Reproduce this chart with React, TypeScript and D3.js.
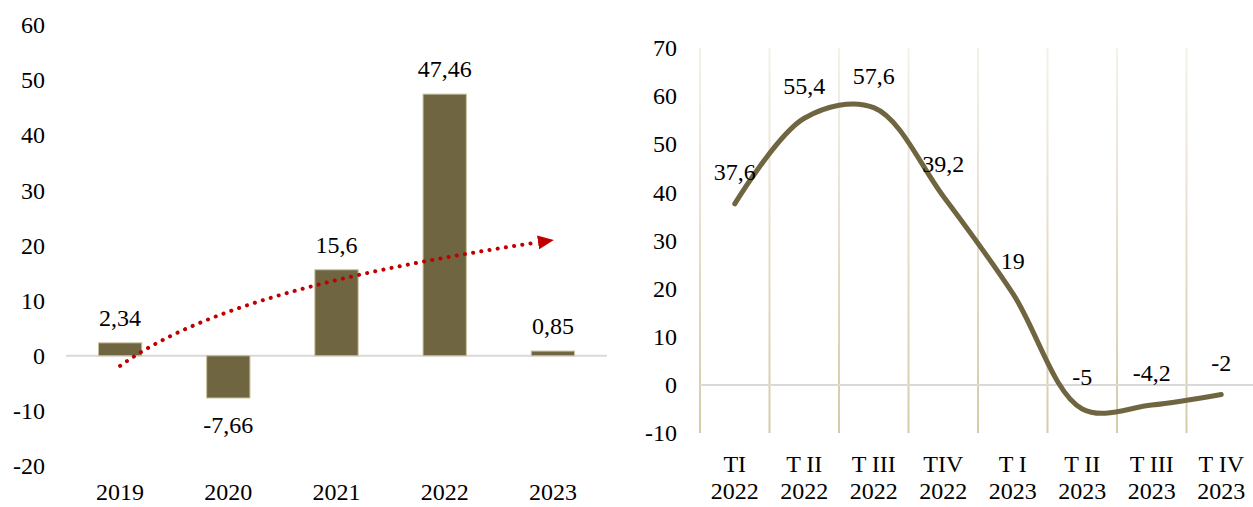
import { useEffect, useRef } from 'react';
import * as d3 from 'd3';

// left chart: yearly values
const years = ['2019', '2020', '2021', '2022', '2023'];
const yearValues = [2.34, -7.66, 15.6, 47.46, 0.85];
const leftTicks = [-20, -10, 0, 10, 20, 30, 40, 50, 60];

// right chart: quarterly values
const quarters = ['TI', 'T II', 'T III', 'TIV', 'T I', 'T II', 'T III', 'T IV'];
const quarterYears = ['2022', '2022', '2022', '2022', '2023', '2023', '2023', '2023'];
const quarterValues = [37.6, 55.4, 57.6, 39.2, 19, -5, -4.2, -2];
const rightTicks = [-10, 0, 10, 20, 30, 40, 50, 60, 70];

const OLIVE = '#6f6541';
const FONT = "'Liberation Serif', 'DejaVu Serif', serif";
const fmt = (v: number) => String(v).replace('.', ',');

export default function App() {
  const ref = useRef<SVGSVGElement>(null);

  useEffect(() => {
    if (!ref.current) return;
    const svg = d3.select(ref.current);
    svg.selectAll('*').remove();

    const defs = svg.append('defs');
    const grad = defs.append('linearGradient')
      .attr('id', 'gridGrad')
      .attr('x1', 0).attr('y1', 0).attr('x2', 0).attr('y2', 1);
    grad.append('stop').attr('offset', '0%').attr('stop-color', '#f4f1ea');
    grad.append('stop').attr('offset', '100%').attr('stop-color', '#d5cba8');

    defs.append('marker')
      .attr('id', 'arrow')
      .attr('markerUnits', 'userSpaceOnUse')
      .attr('viewBox', '0 0 16 14')
      .attr('refX', 15).attr('refY', 7)
      .attr('markerWidth', 16).attr('markerHeight', 14)
      .attr('orient', 'auto')
      .append('path')
      .attr('d', 'M0,0 L16,7 L0,14 Z')
      .attr('fill', '#c00000');

    const txt = (sel: d3.Selection<any, any, any, any>) =>
      sel.style('font-family', FONT).style('font-size', '24px').attr('fill', '#000');

    // ---------- left: bar chart ----------
    const xL = d3.scaleBand<string>()
      .domain(years)
      .range([66, 607])
      .paddingInner(0.6)
      .paddingOuter(0.3);
    const yL = d3.scaleLinear().domain([-20, 60]).range([466, 25]);
    const gL = svg.append('g');

    gL.selectAll('text.ytick')
      .data(leftTicks)
      .join('text')
      .attr('class', 'ytick')
      .attr('x', 45)
      .attr('y', d => yL(d))
      .attr('dy', '0.34em')
      .attr('text-anchor', 'end')
      .text(d => d)
      .call(txt);

    gL.append('line')
      .attr('x1', 66).attr('x2', 607)
      .attr('y1', yL(0)).attr('y2', yL(0))
      .attr('stroke', '#d9d9d9').attr('stroke-width', 2);

    gL.selectAll('rect')
      .data(yearValues)
      .join('rect')
      .attr('x', (_, i) => xL(years[i])!)
      .attr('width', xL.bandwidth())
      .attr('y', d => yL(Math.max(0, d)))
      .attr('height', d => Math.abs(yL(d) - yL(0)))
      .attr('fill', OLIVE)
      .attr('stroke', '#c8c09e')
      .attr('stroke-width', 1);

    gL.selectAll('text.val')
      .data(yearValues)
      .join('text')
      .attr('class', 'val')
      .attr('x', (_, i) => xL(years[i])! + xL.bandwidth() / 2)
      .attr('y', d => (d >= 0 ? yL(d) - 17 : yL(d) + 35))
      .attr('text-anchor', 'middle')
      .text(d => fmt(d))
      .call(txt);

    gL.selectAll('text.xcat')
      .data(years)
      .join('text')
      .attr('class', 'xcat')
      .attr('x', d => xL(d)! + xL.bandwidth() / 2)
      .attr('y', 500)
      .attr('text-anchor', 'middle')
      .text(d => d)
      .call(txt);

    // logarithmic trend line (least squares on ln(index))
    const lx = yearValues.map((_, i) => Math.log(i + 1));
    const mx = d3.mean(lx)!;
    const my = d3.mean(yearValues)!;
    const b = d3.sum(lx, (v, i) => (v - mx) * (yearValues[i] - my)) /
      d3.sum(lx, v => (v - mx) ** 2);
    const a = my - b * mx;
    const step = xL.step();
    const c0 = xL(years[0])! + xL.bandwidth() / 2;
    const tEnd = 4.86;
    const ts = d3.range(1, tEnd + 0.0001, 0.02);
    const trend = d3.line<number>()
      .x(t => c0 + (t - 1) * step)
      .y(t => yL(a + b * Math.log(t)));
    gL.append('path')
      .attr('d', trend(ts))
      .attr('fill', 'none')
      .attr('stroke', '#c00000')
      .attr('stroke-width', 4)
      .attr('stroke-linecap', 'round')
      .attr('stroke-dasharray', '0.1 8.2');
    gL.append('line')
      .attr('x1', c0 + (tEnd - 1) * step).attr('y1', yL(a + b * Math.log(tEnd)))
      .attr('x2', c0 + 4 * step).attr('y2', yL(a + b * Math.log(5)))
      .attr('stroke', 'none')
      .attr('marker-end', 'url(#arrow)');

    // ---------- right: line chart ----------
    const idx = quarters.map((_, i) => String(i));
    const xR = d3.scaleBand<string>().domain(idx).range([700, 1256]).padding(0);
    const yR = d3.scaleLinear().domain([-10, 70]).range([433, 48]);
    const gR = svg.append('g');

    gR.selectAll('text.ytick')
      .data(rightTicks)
      .join('text')
      .attr('class', 'ytick')
      .attr('x', 677)
      .attr('y', d => yR(d))
      .attr('dy', '0.34em')
      .attr('text-anchor', 'end')
      .text(d => d)
      .call(txt);

    gR.selectAll('rect.grid')
      .data(idx)
      .join('rect')
      .attr('class', 'grid')
      .attr('x', d => xR(d)! - 1)
      .attr('y', yR(70))
      .attr('width', 2)
      .attr('height', yR(-10) - yR(70))
      .attr('fill', 'url(#gridGrad)');

    gR.append('line')
      .attr('x1', 700).attr('x2', 1256)
      .attr('y1', yR(0)).attr('y2', yR(0))
      .attr('stroke', '#d9d9d9').attr('stroke-width', 2);

    const cx = (i: number) => xR(String(i))! + xR.bandwidth() / 2;
    const line = d3.line<number>()
      .x((_, i) => cx(i))
      .y(d => yR(d))
      .curve(d3.curveCatmullRom.alpha(0.5));
    gR.append('path')
      .attr('d', line(quarterValues))
      .attr('fill', 'none')
      .attr('stroke', OLIVE)
      .attr('stroke-width', 5)
      .attr('stroke-linecap', 'round');

    gR.selectAll('text.val')
      .data(quarterValues)
      .join('text')
      .attr('class', 'val')
      .attr('x', (_, i) => cx(i))
      .attr('y', d => yR(d) - 24)
      .attr('text-anchor', 'middle')
      .text(d => fmt(d))
      .call(txt);

    const cats = gR.selectAll('text.xcat')
      .data(quarters)
      .join('text')
      .attr('class', 'xcat')
      .attr('text-anchor', 'middle')
      .call(txt);
    cats.append('tspan').attr('x', (_, i) => cx(i)).attr('y', 472).text(d => d);
    cats.append('tspan').attr('x', (_, i) => cx(i)).attr('y', 499).text((_, i) => quarterYears[i]);
  }, []);

  return (
    <svg
      ref={ref}
      width={1253}
      height={507}
      style={{ position: 'absolute', left: 0, top: 0, background: '#fff' }}
    />
  );
}
